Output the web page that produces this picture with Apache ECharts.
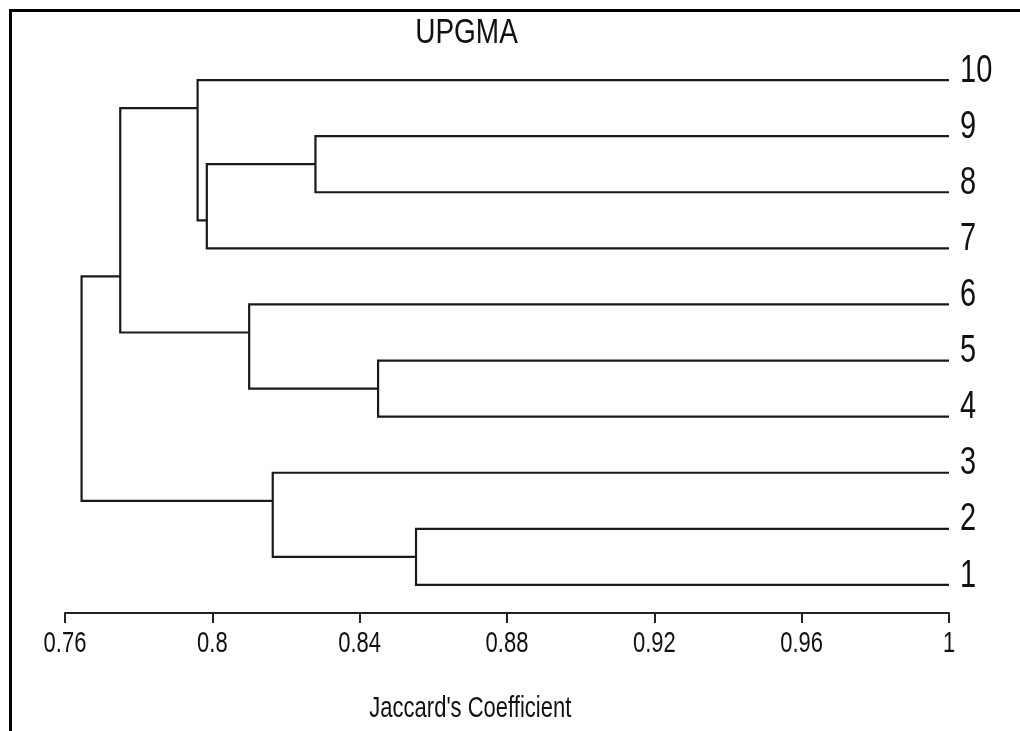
<!DOCTYPE html>
<html>
<head>
<meta charset="utf-8">
<script src="https://cdn.jsdelivr.net/npm/echarts@6/dist/echarts.min.js"></script>
<style>
html,body{margin:0;padding:0;background:#fff;}
#chart{width:1020px;height:731px;}
</style>
</head>
<body>
<div id="chart"></div>
<script>
// ---- data ----
const leafLabels = ['1','2','3','4','5','6','7','8','9','10'];   // rows 1..10 (bottom to top)
const nodeIds        = ['A',  'B',   'C',  'F',  'E',  'D',   'H',   'G',   'R'];
const nodeChildA     = ['9',  'A',   '10', '5',  '6',  'C',   '2',   '3',   'D'];
const nodeChildB     = ['8',  '7',   'B',  '4',  'F',  'E',   '1',   'H',   'G'];
const nodeSimilarity = [0.828, 0.7985, 0.796, 0.845, 0.810, 0.775, 0.8553, 0.8164, 0.7645];
const xTicks = [0.76, 0.8, 0.84, 0.88, 0.92, 0.96, 1];
const titleText = 'UPGMA';
const xAxisTitle = "Jaccard's Coefficient";

// ---- layout helpers (NTSYS style: node row sits between adjacent leaves at the split) ----
const FONT = "'Liberation Sans',Arial,sans-serif";
const STRETCH = 1.33;   // reference text is tall / condensed
const info = {};
leafLabels.forEach(l => { info[l] = {x: 1, row: Number(l), leaves: [Number(l)]}; });
nodeIds.forEach((id, i) => {
  const a = info[nodeChildA[i]], b = info[nodeChildB[i]];
  const minA = Math.min(...a.leaves), maxB = Math.max(...b.leaves);
  info[id] = {x: nodeSimilarity[i], row: (minA + maxB) / 2, leaves: a.leaves.concat(b.leaves)};
});
const segs = nodeIds.map((id, i) => {
  const n = info[id], a = info[nodeChildA[i]], b = info[nodeChildB[i]];
  return {coords: [[a.x, a.row], [n.x, a.row], [n.x, b.row], [b.x, b.row]]};
});

const chart = echarts.init(document.getElementById('chart'));
chart.setOption({
  animation: false,
  backgroundColor: '#fff',
  grid: {left: 65, right: 71, top: 52, bottom: 118, containLabel: false},
  xAxis: {
    type: 'value', min: 0.76, max: 1, interval: 0.04,
    axisLine: {show: true, lineStyle: {color: '#222', width: 2}},
    axisTick: {show: true, length: 10, inside: false, lineStyle: {color: '#222', width: 2}},
    axisLabel: {show: false},
    splitLine: {show: false}
  },
  yAxis: {
    type: 'value', min: 0.5, max: 10.5, interval: 0.5, position: 'right',
    axisLine: {show: false}, axisTick: {show: false}, splitLine: {show: false},
    axisLabel: {show: false}
  },
  series: [
    {
      type: 'lines', coordinateSystem: 'cartesian2d', polyline: true,
      lineStyle: {color: '#1a1a1a', width: 2.2, opacity: 1},
      silent: true,
      data: segs
    },
    { // leaf labels
      type: 'custom', clip: false, silent: true,
      data: leafLabels.map(l => [1, Number(l)]),
      renderItem: (params, api) => {
        const p = api.coord([api.value(0), api.value(1)]);
        return {type: 'text', x: p[0] + 11, y: p[1] - 9, scaleY: STRETCH,
          style: {text: leafLabels[params.dataIndex], fontFamily: FONT, fontSize: 29,
                  fill: '#111', align: 'left', verticalAlign: 'middle'}};
      }
    },
    { // x tick labels
      type: 'custom', clip: false, silent: true,
      data: xTicks.map(v => [v, 0.5]),
      renderItem: (params, api) => {
        const p = api.coord([api.value(0), api.value(1)]);
        return {type: 'text', x: p[0], y: p[1] + 30.5, scaleY: STRETCH,
          style: {text: String(xTicks[params.dataIndex]), fontFamily: FONT, fontSize: 22,
                  fill: '#111', align: 'center', verticalAlign: 'middle'}};
      }
    }
  ],
  graphic: [
    {type: 'line', shape: {x1: 9, y1: 10.5, x2: 1020, y2: 10.5}, style: {stroke: '#000', lineWidth: 3}},
    {type: 'line', shape: {x1: 10.5, y1: 9, x2: 10.5, y2: 731}, style: {stroke: '#000', lineWidth: 3}},
    {type: 'text', x: 466.5, y: 33.5, scaleY: 1.27,
     style: {text: titleText, fontFamily: FONT, fontSize: 28, fill: '#111', align: 'center', verticalAlign: 'middle'}},
    {type: 'text', x: 470.3, y: 708.5, scaleY: STRETCH,
     style: {text: xAxisTitle, fontFamily: FONT, fontSize: 22, fill: '#111', align: 'center', verticalAlign: 'middle'}}
  ]
});
</script>
</body>
</html>
